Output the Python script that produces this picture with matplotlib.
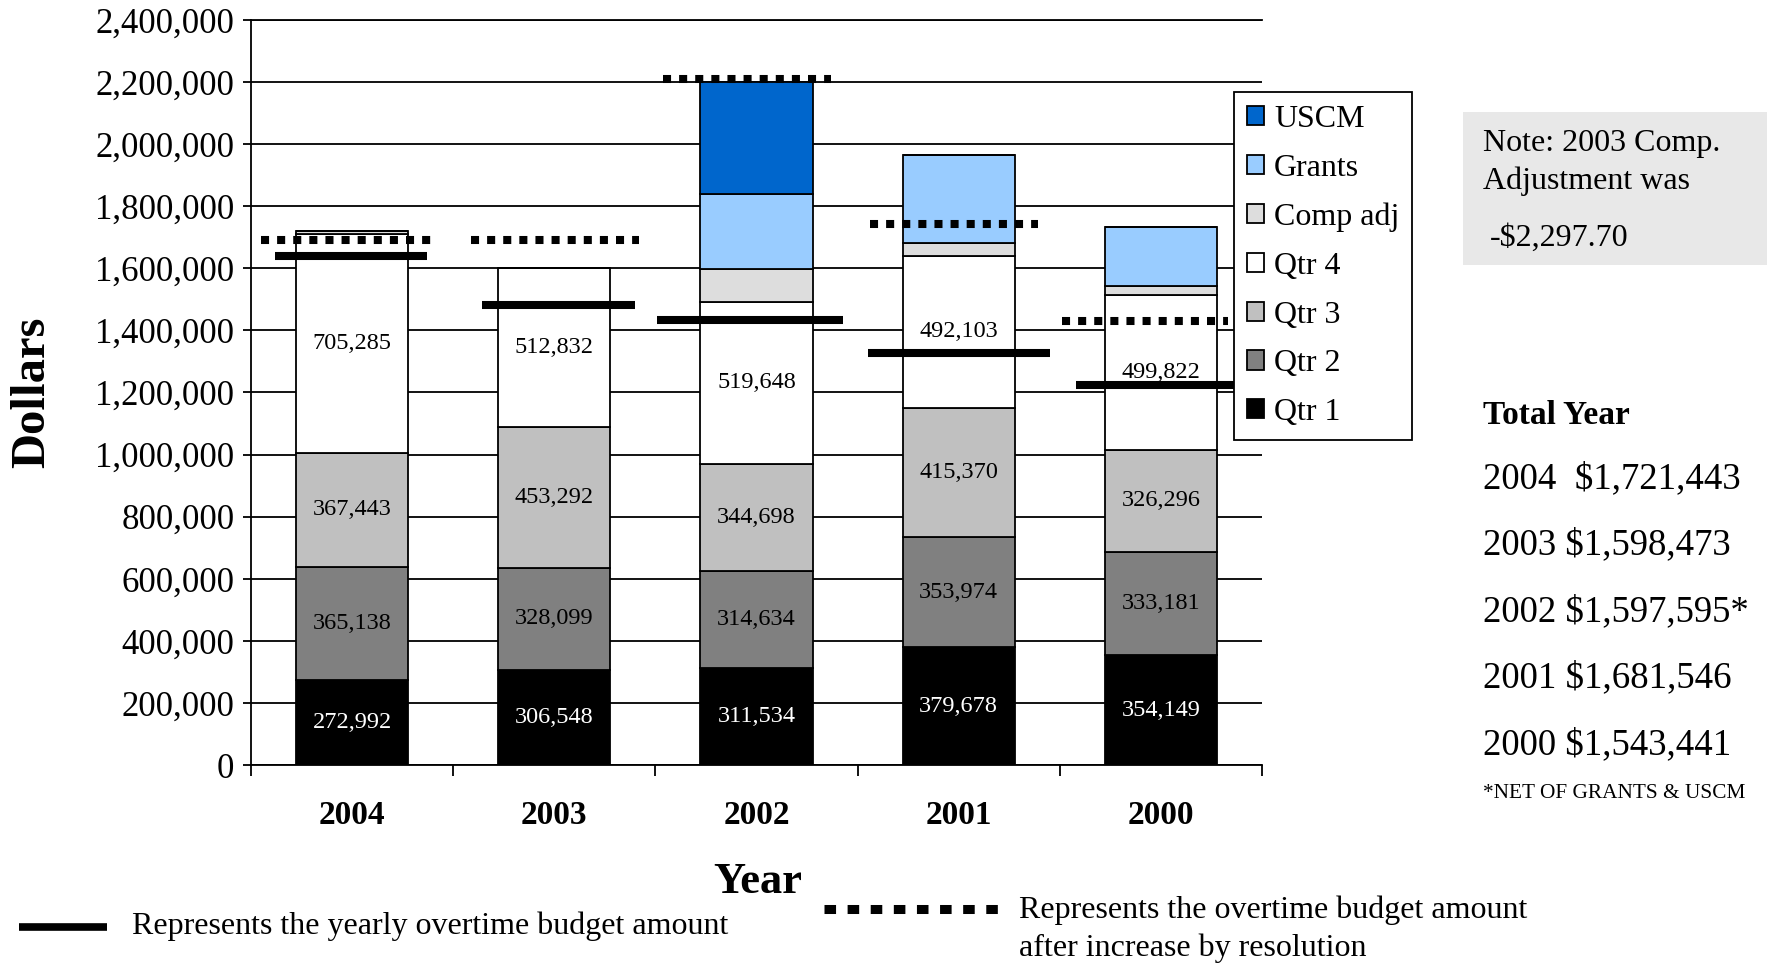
import numpy as np
import matplotlib.pyplot as plt
from matplotlib.patches import Patch, Rectangle
from matplotlib.lines import Line2D
from matplotlib.ticker import FuncFormatter

plt.rcParams['font.family'] = ['Liberation Serif', 'DejaVu Serif']

W, H = 1767, 964

# data
years = ['2004', '2003', '2002', '2001', '2000']
qtr1 = [272992, 306548, 311534, 379678, 354149]
qtr2 = [365138, 328099, 314634, 353974, 333181]
qtr3 = [367443, 453292, 344698, 415370, 326296]
qtr4 = [705285, 512832, 519648, 492103, 499822]
comp_adj = [10585, 0, 107081, 40421, 29993]
grants = [0, 0, 240400, 283000, 189000]
uscm = [0, 0, 362000, 0, 0]
budget = [1640000, 1483000, 1432000, 1328000, 1223000]
budget_inc = [1690000, 1690000, 2209000, 1744000, 1431000]
totals = ['$1,721,443', '$1,598,473', '$1,597,595*', '$1,681,546', '$1,543,441']

series = [('Qtr 1', qtr1, 'black'),
          ('Qtr 2', qtr2, '#808080'),
          ('Qtr 3', qtr3, '#C0C0C0'),
          ('Qtr 4', qtr4, 'white'),
          ('Comp adj', comp_adj, '#DDDDDD'),
          ('Grants', grants, '#99CCFF'),
          ('USCM', uscm, '#0066CC')]
label_color = {'Qtr 1': 'white', 'Qtr 2': 'black', 'Qtr 3': 'black', 'Qtr 4': 'black'}

# where the budget marks start/end around each bar (category units)
solid_span = [(-0.38, 0.37), (-0.36, 0.40), (-0.49, 0.43), (-0.45, 0.45), (-0.42, 0.49)]
dot_span = [(-0.45, 0.39), (-0.41, 0.42), (-0.46, 0.37), (-0.44, 0.39), (-0.49, 0.33)]

fig = plt.figure(figsize=(W / 100, H / 100), dpi=100)
ax = fig.add_axes([251 / W, 1 - 765 / H, (1262 - 251) / W, (765 - 20) / H])

x = np.arange(len(years))
bottom = np.zeros(len(years))
for name, vals, col in series:
    vals = np.array(vals, dtype=float)
    ax.bar(x, vals, 0.555, bottom=bottom, color=col, edgecolor='black',
           linewidth=1.3, zorder=3)
    if name in label_color:
        for i, v in enumerate(vals):
            ax.text(i, bottom[i] + v / 2, f'{int(v):,}', ha='center', va='center',
                    fontsize=17.5, color=label_color[name], zorder=5)
    bottom += vals

for i in range(len(years)):
    ax.plot([i + solid_span[i][0], i + solid_span[i][1]], [budget[i]] * 2,
            color='black', lw=5.8, solid_capstyle='butt', zorder=6)
    ax.plot([i + dot_span[i][0], i + dot_span[i][1]], [budget_inc[i]] * 2,
            color='black', lw=5.8, linestyle=(0, (1, 1)), dash_capstyle='butt', zorder=6)

ax.set_xlim(-0.5, 4.5)
ax.set_ylim(0, 2400000)
ax.set_yticks(np.arange(0, 2400001, 200000))
ax.yaxis.set_major_formatter(FuncFormatter(lambda v, p: f'{int(v):,}'))
ax.yaxis.grid(True, color='black', lw=1.3, zorder=0)
ax.set_axisbelow(True)
ax.set_xticks(x)
ax.set_xticklabels(years, fontsize=24, fontweight='bold')
ax.set_xticks(np.arange(-0.5, 5, 1), minor=True)
ax.tick_params(axis='x', which='major', length=0, pad=25)
ax.tick_params(axis='x', which='minor', length=8, width=1.3, direction='out')
ax.tick_params(axis='y', length=6, width=1.3, labelsize=25, pad=6)
for s in ['right']:
    ax.spines[s].set_visible(False)
for s in ['left', 'bottom', 'top']:
    ax.spines[s].set_linewidth(1.3)

# legend
handles = [Patch(facecolor=c, edgecolor='black', linewidth=1.3, label=n)
           for n, v, c in series[::-1]]
leg = fig.legend(handles=handles, loc='upper left',
                 bbox_to_anchor=(1234 / W, 1 - 92 / H), fontsize=23,
                 frameon=True, fancybox=False, shadow=False, framealpha=1,
                 edgecolor='black', handlelength=0.55, handleheight=0.55,
                 handletextpad=0.3, labelspacing=0.62, borderpad=0.4,
                 borderaxespad=0)
leg.get_frame().set_linewidth(1.3)

# axis titles
fig.text(32 / W, 1 - 392 / H, 'Dollars', rotation=90, fontsize=35,
         fontweight='bold', ha='center', va='center')
fig.text(758 / W, 1 - 882 / H, 'Year', fontsize=32, fontweight='bold',
         ha='center', va='center')

# note box
fig.add_artist(Rectangle((1463 / W, 1 - 265 / H), (W - 1463) / W, (265 - 112) / H,
                         transform=fig.transFigure, facecolor='#E8E8E8',
                         edgecolor='none'))
fig.text(1483 / W, 1 - 143 / H, 'Note: 2003 Comp.', fontsize=23, va='center')
fig.text(1483 / W, 1 - 181 / H, 'Adjustment was', fontsize=23, va='center')
fig.text(1490 / W, 1 - 238 / H, '-$2,297.70', fontsize=23, va='center')

# yearly totals
fig.text(1483 / W, 1 - 415 / H, 'Total Year', fontsize=24, fontweight='bold', va='center')
ty = [479, 545, 612, 678, 745]
for yr, tot, py in zip(years, totals, ty):
    sep = '  ' if yr == '2004' else ' '
    fig.text(1483 / W, 1 - py / H, yr + sep + tot, fontsize=26.5, va='center')
fig.text(1483 / W, 1 - 793 / H, '*NET OF GRANTS & USCM', fontsize=15.3, va='center')

# bottom key
fig.add_artist(Line2D([19 / W, 107 / W], [1 - 927 / H] * 2, transform=fig.transFigure,
                      color='black', lw=5.5, solid_capstyle='butt'))
fig.text(132 / W, 1 - 926 / H, 'Represents the yearly overtime budget amount',
         fontsize=23, va='center')
fig.add_artist(Line2D([824 / W, 998 / W], [1 - 909 / H] * 2, transform=fig.transFigure,
                      color='black', lw=6.5, linestyle=(0, (1.28, 1.28)),
                      dash_capstyle='butt'))
fig.text(1019 / W, 1 - 910 / H, 'Represents the overtime budget amount',
         fontsize=23, va='center')
fig.text(1019 / W, 1 - 948 / H, 'after increase by resolution',
         fontsize=23, va='center')

fig.savefig('out.png', dpi=100)
